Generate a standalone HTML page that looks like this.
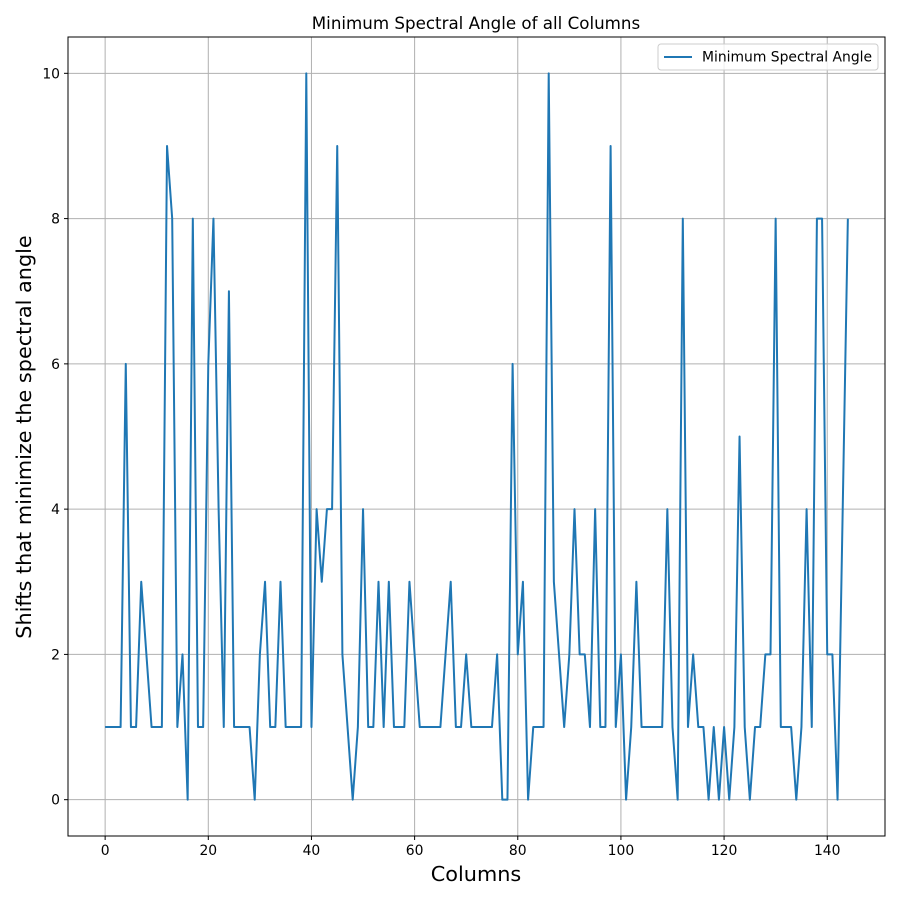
<!DOCTYPE html>
<html><head><meta charset="utf-8"><style>
body{margin:0;background:#fff;font-family:"DejaVu Sans","Liberation Sans",sans-serif}
svg text{font-family:"DejaVu Sans","Liberation Sans",sans-serif}
</style></head><body>
<svg id="chart" width="900" height="900" xmlns="http://www.w3.org/2000/svg">
<rect width="900" height="900" fill="#fff"/>
<text x="476" y="29" text-anchor="middle" font-size="16.7" fill="#000">Minimum Spectral Angle of all Columns</text>
<g id="grid"></g>
<g id="ticks"></g>
<path id="series" fill="none" stroke="#1f77b4" stroke-width="2" stroke-linejoin="round"/>
<rect x="68" y="37" width="817" height="799" fill="none" stroke="#000" stroke-width="1"/>
<text x="476" y="881" text-anchor="middle" font-size="20.8">Columns</text>
<text transform="translate(31,437) rotate(-90)" text-anchor="middle" font-size="20.8">Shifts that minimize the spectral angle</text>
<g>
<rect x="658" y="44" width="220" height="26" rx="3" fill="#fff" fill-opacity="0.8" stroke="#ccc"/>
<line x1="664" y1="57" x2="692" y2="57" stroke="#1f77b4" stroke-width="2"/>
<text x="702" y="61.5" font-size="13.9">Minimum Spectral Angle</text>
</g>
</svg>
<script>
const values = [1,1,1,1,6,1,1,3,2,1,1,1,9,8,1,2,0,8,1,1,6,8,4,1,7,1,1,1,1,0,2,3,1,1,3,1,1,1,1,10,1,4,3,4,4,9,2,1,0,1,4,1,1,3,1,3,1,1,1,3,2,1,1,1,1,1,2,3,1,1,2,1,1,1,1,1,2,0,0,6,2,3,0,1,1,1,10,3,2,1,2,4,2,2,1,4,1,1,9,1,2,0,1,3,1,1,1,1,1,4,1,0,8,1,2,1,1,0,1,0,1,0,1,5,1,0,1,1,2,2,8,1,1,1,0,1,4,1,8,8,2,2,0,4,8];
const xTicks = [0,20,40,60,80,100,120,140];
const yTicks = [0,2,4,6,8,10];
const xDomain = [-7.2, 151.2], yDomain = [-0.5, 10.5];
const L=68,R=885,T=37,B=836;
const sx = v => L + (v - xDomain[0]) / (xDomain[1]-xDomain[0]) * (R-L);
const sy = v => B - (v - yDomain[0]) / (yDomain[1]-yDomain[0]) * (B-T);
const NS="http://www.w3.org/2000/svg";
const grid=document.getElementById('grid'), ticks=document.getElementById('ticks');
function mk(tag,attrs,parent){const e=document.createElementNS(NS,tag);for(const k in attrs)e.setAttribute(k,attrs[k]);parent.appendChild(e);return e;}
xTicks.forEach(t=>{
  const x=sx(t);
  const g=mk('line',{x1:x,x2:x,y1:T,y2:B,stroke:'#b0b0b0','stroke-width':1},grid);
  
  
  const tk=mk('line',{x1:x,x2:x,y1:B,y2:B+4,stroke:'#000'},ticks);
  
  
  const lb=mk('text',{x:x,y:B+19,'text-anchor':'middle','font-size':13.9},ticks);
  lb.textContent=t;
  
  
});
yTicks.forEach(t=>{
  const y=sy(t);
  const g=mk('line',{x1:L,x2:R,y1:y,y2:y,stroke:'#b0b0b0','stroke-width':1},grid);
  
  
  const tk=mk('line',{x1:L-4,x2:L,y1:y,y2:y,stroke:'#000'},ticks);
  
  
  const lb=mk('text',{x:L-8,y:y+5,'text-anchor':'end','font-size':13.9},ticks);
  lb.textContent=t;
  
  
});
document.getElementById('series').setAttribute('d', values.map((v,i)=>(i?'L':'M')+sx(i).toFixed(2)+','+sy(v).toFixed(2)).join(''));
</script>
</body></html>
